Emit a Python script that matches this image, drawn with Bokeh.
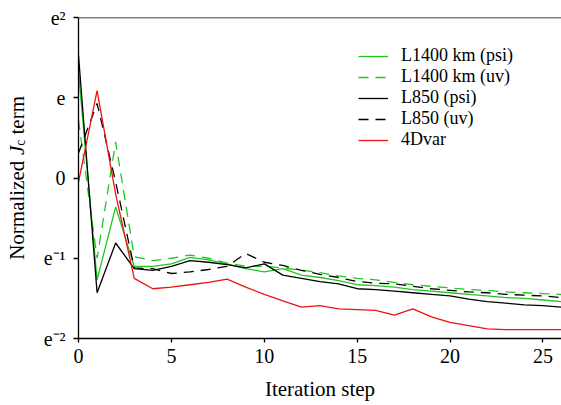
import math
from bokeh.plotting import figure
from bokeh.layouts import row
from bokeh.models import Range1d, FixedTicker, Span, Legend, LegendItem, Label
from bokeh.embed import file_html
from bokeh.resources import INLINE

# Iteration steps
steps = list(range(27))

# Natural log of the normalized Jc term (y axis is log base e)
l1400_psi = [1.32, -1.27, -0.36, -1.10, -1.10, -1.07, -0.99, -1.02, -1.07, -1.13,
             -1.17, -1.13, -1.21, -1.24, -1.28, -1.33, -1.34, -1.36, -1.39, -1.41,
             -1.43, -1.45, -1.47, -1.49, -1.50, -1.52, -1.54]
l1400_uv = [0.72, -1.00, 0.45, -0.98, -1.03, -1.00, -0.96, -1.00, -1.06, -1.10,
            -1.10, -1.12, -1.15, -1.18, -1.22, -1.25, -1.27, -1.30, -1.33, -1.35,
            -1.37, -1.39, -1.40, -1.42, -1.43, -1.44, -1.45]
l850_psi = [1.53, -1.43, -0.81, -1.13, -1.15, -1.10, -1.03, -1.05, -1.08, -1.12,
            -1.07, -1.21, -1.25, -1.29, -1.32, -1.38, -1.39, -1.41, -1.43, -1.45,
            -1.47, -1.51, -1.54, -1.56, -1.58, -1.59, -1.61]
l850_uv = [0.31, 0.93, -0.05, -1.12, -1.13, -1.19, -1.17, -1.14, -1.10, -0.94,
           -1.05, -1.09, -1.15, -1.20, -1.24, -1.29, -1.31, -1.32, -1.35, -1.38,
           -1.40, -1.42, -1.43, -1.45, -1.46, -1.47, -1.49]
fourdvar = [-0.05, 1.09, -0.20, -1.25, -1.38, -1.36, -1.33, -1.30, -1.26, -1.36,
            -1.45, -1.53, -1.61, -1.59, -1.63, -1.64, -1.65, -1.71, -1.63, -1.73,
            -1.80, -1.84, -1.88, -1.89, -1.89, -1.89, -1.89]

series_names = ["L1400 km (psi)", "L1400 km (uv)", "L850 (psi)", "L850 (uv)", "4Dvar"]

x_ticks = [0, 5, 10, 15, 20, 25]
y_ticks = [-2, -1, 0, 1, 2]
y_tick_labels = ["e\u207b\u00b2", "e\u207b\u00b9", "0", "e", "e\u00b2"]

x_title = "Iteration step"
y_title_parts = ["Normalized", "J", "c", "term"]

FONT = "Liberation Serif"
GREEN = "#1ec81e"
RED = "#ee1111"

W, H = 561, 405
LW = 40  # width of the strip holding the y-axis title

# ---- y title strip (its frame is aligned with the chart's frame by the row) ----
t = figure(width=LW, height=H, output_backend="svg", toolbar_location=None,
           x_range=Range1d(0, LW), y_range=Range1d(0, 1),
           x_axis_location=None, y_axis_location=None, min_border=0,
           min_border_left=0, min_border_right=0, min_border_top=17,
           min_border_bottom=H - 338)
t.outline_line_color = None
t.grid.visible = False
t.border_fill_color = "white"
t.background_fill_color = "white"

ang = math.pi / 2
# (text, baseline x, start y measured up from the frame bottom, size, style)
layout_parts = [
    (y_title_parts[0], 16, 78.7, "21px", "normal"),
    (y_title_parts[1], 16, 183.6, "21px", "italic"),
    (y_title_parts[2], 20, 192.8, "14px", "normal"),
    (y_title_parts[3], 16, 204.0, "21px", "normal"),
]
for txt, xx, yy, fs, style in layout_parts:
    t.add_layout(Label(x=xx, y=yy, x_units="screen", y_units="screen", text=txt,
                       angle=ang, text_font=FONT, text_font_size=fs,
                       text_font_style=style, text_align="left",
                       text_baseline="alphabetic", text_color="black"))

# ---- main chart ----
p = figure(width=W - LW, height=H, output_backend="svg", toolbar_location=None,
           x_range=Range1d(0, 26), y_range=Range1d(-2, 2),
           min_border_left=76 - LW, min_border_right=0, min_border_top=17,
           min_border_bottom=H - 338)
p.outline_line_color = None
p.grid.visible = False
p.background_fill_color = "white"
p.border_fill_color = "white"

r1 = p.line(steps, l1400_psi, line_color=GREEN, line_width=1.3)
r2 = p.line(steps, l1400_uv, line_color=GREEN, line_width=1.3, line_dash="10 7")
r3 = p.line(steps, l850_psi, line_color="black", line_width=1.3)
r4 = p.line(steps, l850_uv, line_color="black", line_width=1.3, line_dash="10 7")
r5 = p.line(steps, fourdvar, line_color=RED, line_width=1.3)

for ax in (p.xaxis[0], p.yaxis[0]):
    ax.axis_line_color = "black"
    ax.axis_line_width = 1.3
    ax.major_tick_line_color = "black"
    ax.major_tick_line_width = 1.3
    ax.major_tick_in = 0
    ax.minor_tick_line_color = None
    ax.major_label_text_font = FONT
    ax.major_label_text_font_size = "20px"
    ax.major_label_text_color = "black"

p.xaxis.ticker = FixedTicker(ticks=x_ticks)
p.xaxis.major_tick_out = 4
p.xaxis.major_label_standoff = 6
p.xaxis.axis_label = x_title
p.xaxis.axis_label_text_font = FONT
p.xaxis.axis_label_text_font_size = "21px"
p.xaxis.axis_label_text_font_style = "normal"
p.xaxis.axis_label_text_color = "black"
p.xaxis.axis_label_standoff = 11

p.yaxis.ticker = FixedTicker(ticks=y_ticks)
p.yaxis.major_tick_out = 5
p.yaxis.major_label_standoff = 8
p.yaxis.major_label_overrides = {tk: lab for tk, lab in zip(y_ticks, y_tick_labels)}

# top frame line
p.add_layout(Span(location=2, dimension="width", line_color="black", line_width=1.3))

legend = Legend(items=[LegendItem(label=n, renderers=[r])
                       for n, r in zip(series_names, [r1, r2, r3, r4, r5])],
                location=(280, 188))
legend.border_line_color = None
legend.background_fill_alpha = 0
legend.padding = 0
legend.margin = 0
legend.spacing = -1
legend.glyph_width = 30
legend.glyph_height = 20
legend.label_height = 20
legend.label_standoff = 13
legend.label_text_font = FONT
legend.label_text_font_size = "18px"
legend.label_text_color = "black"
p.add_layout(legend)

layout = row(t, p, spacing=0)
open("out.html", "w").write(file_html(layout, INLINE))
